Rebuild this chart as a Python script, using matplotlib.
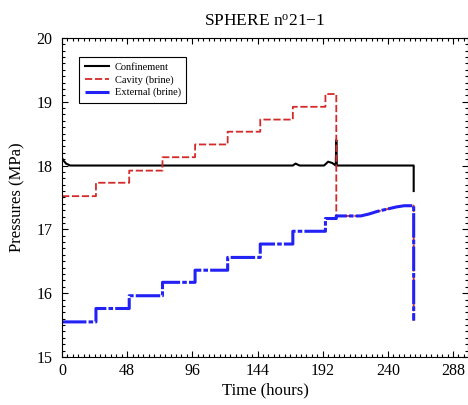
import numpy as np
import matplotlib
matplotlib.use("Agg")
import matplotlib.pyplot as plt
from matplotlib.ticker import MultipleLocator

plt.rcParams["font.family"] = ["Liberation Serif", "DejaVu Serif"]
plt.rcParams["mathtext.fontset"] = "custom"
plt.rcParams["mathtext.rm"] = "Liberation Serif"
plt.rcParams["mathtext.it"] = "Liberation Serif:italic"

# Pressure steps (hours / MPa)
step_times = [0, 25, 49.5, 74, 98, 122, 146, 170, 194, 202]
cavity_levels = [17.52, 17.73, 17.92, 18.13, 18.33, 18.53, 18.72, 18.92, 19.12]
external_levels = [15.55, 15.76, 15.96, 16.17, 16.36, 16.56, 16.77, 16.97, 17.17]

# After the cavity is opened, cavity and external brine follow the same curve
late_times = [202, 210, 220, 226, 232, 240, 246, 252, 259, 259]
late_pressure = [17.21, 17.21, 17.21, 17.24, 17.28, 17.32, 17.35, 17.37, 17.37, 15.57]

conf_times = [0, 1, 3, 6, 170, 172, 175, 193, 196, 199, 201.6, 202, 202.4, 259, 259]
conf_pressure = [18.12, 18.08, 18.03, 18.0, 18.0, 18.03, 18.0, 18.0, 18.06, 18.04, 18.0, 18.4, 18.0, 18.0, 17.6]


def build_steps(times, levels):
    xs, ys = [], []
    for i, lv in enumerate(levels):
        xs += [times[i], times[i + 1]]
        ys += [lv, lv]
    return xs, ys


cav_x, cav_y = build_steps(step_times, cavity_levels)
cav_x += late_times
cav_y += late_pressure

ext_x, ext_y = build_steps(step_times, external_levels)
ext_x += late_times
ext_y += late_pressure

fig = plt.figure(figsize=(4.68, 4.05), dpi=100)
ax = fig.add_axes([0.1325, 0.1185, 0.8675, 0.788])

ax.plot(conf_times, conf_pressure, color="black", lw=1.5, label="Confinement")
ax.plot(cav_x, cav_y, color="#d42a2a", lw=1.3, ls=(0, (4, 1.5)), label="Cavity (brine)")
ax.plot(ext_x, ext_y, color="#2222f5", lw=2.2, ls=(0, (8, 0.7, 1.5, 0.7)), label="External (brine)")

ax.set_xlim(0, 299)
ax.set_ylim(15, 20)
ax.xaxis.set_major_locator(MultipleLocator(48))
ax.xaxis.set_minor_locator(MultipleLocator(4))
ax.yaxis.set_major_locator(MultipleLocator(1))
ax.yaxis.set_minor_locator(MultipleLocator(0.1))
ax.tick_params(which="both", direction="in", top=True, right=True, labelsize=11.5, width=0.8)
ax.tick_params(which="major", length=4)
ax.tick_params(which="minor", length=2)
ax.tick_params(axis="x", pad=4)
ax.tick_params(axis="y", pad=7)
for s in ax.spines.values():
    s.set_linewidth(0.8)

ax.set_xlabel("Time (hours)", fontsize=12, labelpad=3)
ax.set_ylabel("Pressures (MPa)", fontsize=12, labelpad=8)
ax.set_title(r"SPHERE n$^{\rm o}$21$-$1", fontsize=12.5, pad=9)

# legend, small box near top left
leg = ax.legend(loc="upper left", bbox_to_anchor=(0.03, 0.955), fontsize=7.5,
                handlelength=2.3, fancybox=False, edgecolor="black",
                framealpha=1, borderpad=0.5, labelspacing=0.3, handletextpad=0.6)
leg.get_frame().set_linewidth(0.8)

fig.savefig("out.png", dpi=100)
